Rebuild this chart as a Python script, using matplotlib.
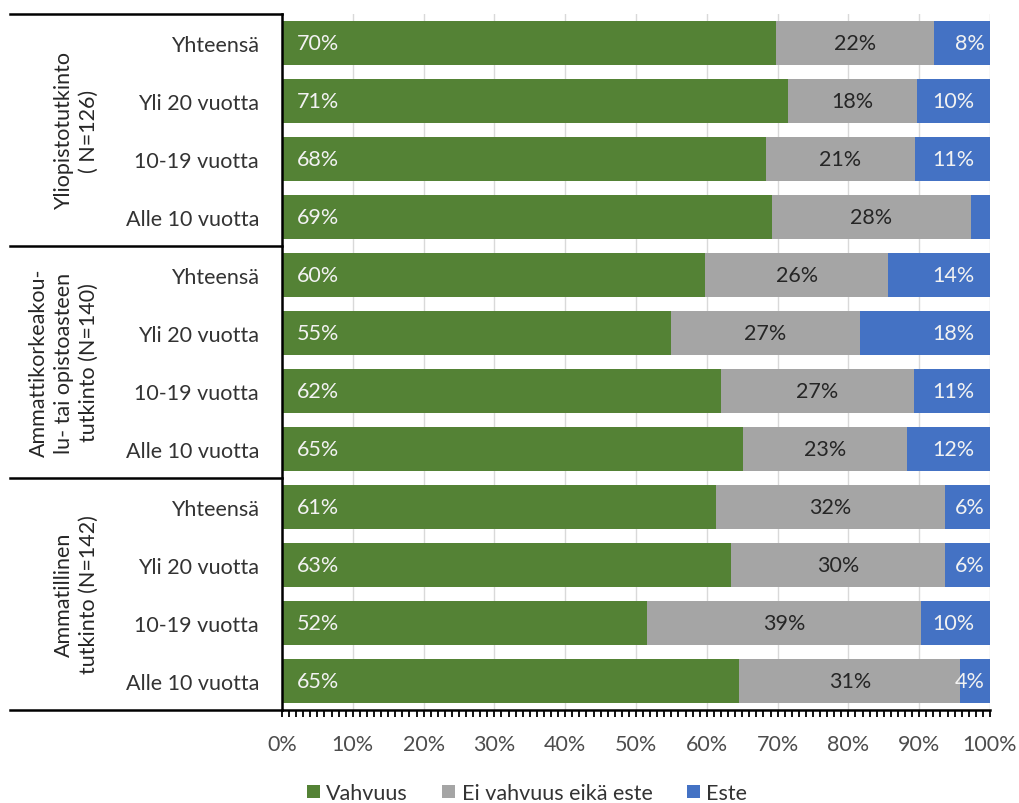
import numpy as np
import matplotlib.pyplot as plt
import matplotlib.ticker as ticker

plt.rcParams['font.family'] = ['Lato', 'DejaVu Sans']

# rows top to bottom
groups = ['Yliopistotutkinto\n( N=126)',
          'Ammattikorkeakou-\nlu- tai opistoasteen\ntutkinto (N=140)',
          'Ammatillinen\ntutkinto (N=142)']
rows = ['Yhteensä', 'Yli 20 vuotta', '10-19 vuotta', 'Alle 10 vuotta'] * 3
vahvuus = [69.8, 71.4, 68.3, 69.2, 59.8, 55.0, 62.0, 65.1, 61.3, 63.4, 51.6, 64.6]
neutraali = [22.3, 18.3, 21.1, 28.1, 25.8, 26.6, 27.3, 23.2, 32.3, 30.2, 38.7, 31.2]
este = [7.9, 10.3, 10.6, 2.7, 14.4, 18.4, 10.7, 11.7, 6.4, 6.4, 9.7, 4.2]
series = ['Vahvuus', 'Ei vahvuus eikä este', 'Este']
colors = ['#548235', '#a5a5a5', '#4472c4']

fig = plt.figure(figsize=(10.19, 8.04), dpi=100)
ax = fig.add_axes([282/1019, 1 - 711/804, 708/1019, 696/804])

y = np.arange(len(rows))
v = np.array(vahvuus)
n = np.array(neutraali)
e = np.array(este)
h = 0.76
ax.barh(y, v, height=h, color=colors[0], label=series[0], zorder=2)
ax.barh(y, n, left=v, height=h, color=colors[1], label=series[1], zorder=2)
ax.barh(y, e, left=v + n, height=h, color=colors[2], label=series[2], zorder=2)

fs = 15.5
for i in range(len(rows)):
    ax.text(2.1, y[i], '%.0f%%' % v[i], ha='left', va='center',
            color='#f2f2f2', fontsize=fs, zorder=3)
    ax.text(v[i] + n[i] / 2, y[i], '%.0f%%' % n[i], ha='center', va='center',
            color='#262626', fontsize=fs, zorder=3)
    if e[i] >= 4:
        xe = 94.8 if e[i] >= 9.5 else 97.2
        ax.text(xe, y[i], '%.0f%%' % e[i], ha='center', va='center',
                color='#f2f2f2', fontsize=fs, zorder=3, clip_on=True)

ax.set_xlim(0, 100)
ax.set_ylim(len(rows) - 0.5, -0.5)
ax.xaxis.set_major_locator(ticker.MultipleLocator(10))
ax.xaxis.set_minor_locator(ticker.MultipleLocator(1))
ax.xaxis.set_major_formatter(ticker.FuncFormatter(lambda x, p: '%d%%' % x))
ax.grid(axis='x', color='#d9d9d9', lw=1, zorder=0)
ax.tick_params(axis='x', which='both', direction='out', length=5, width=1.3,
               color='black', labelsize=fs, labelcolor='#4d4d4d', pad=12)
ax.tick_params(axis='y', length=0, pad=16.5, labelsize=fs, labelcolor='#333333')
ax.set_yticks(y)
ax.set_yticklabels(rows)
for s in ['top', 'right']:
    ax.spines[s].set_visible(False)
ax.spines['left'].set_linewidth(1.8)
ax.spines['bottom'].set_linewidth(1.8)

# group separators and group titles left of the category labels
x0 = (10 - 282) / 708
for b in [-0.5, 3.5, 7.5, 11.5]:
    ax.plot([x0, 0], [b, b], color='black', lw=1.8, clip_on=False,
            transform=ax.get_yaxis_transform())
for k, g in enumerate(groups):
    ax.text((99 - 282) / 708, 4 * k + 1.5, g, rotation=90, ha='right',
            va='center', multialignment='center', fontsize=fs,
            color='#262626', linespacing=1.3,
            transform=ax.get_yaxis_transform())

fig.legend(loc='lower center', bbox_to_anchor=(527/1019, 0.0), ncol=3,
           frameon=False, fontsize=fs, handlelength=0.6, handleheight=0.6,
           handletextpad=0.3, columnspacing=1.6, labelcolor='#333333',
           borderaxespad=0, borderpad=0)

fig.savefig('out.png', dpi=100)
